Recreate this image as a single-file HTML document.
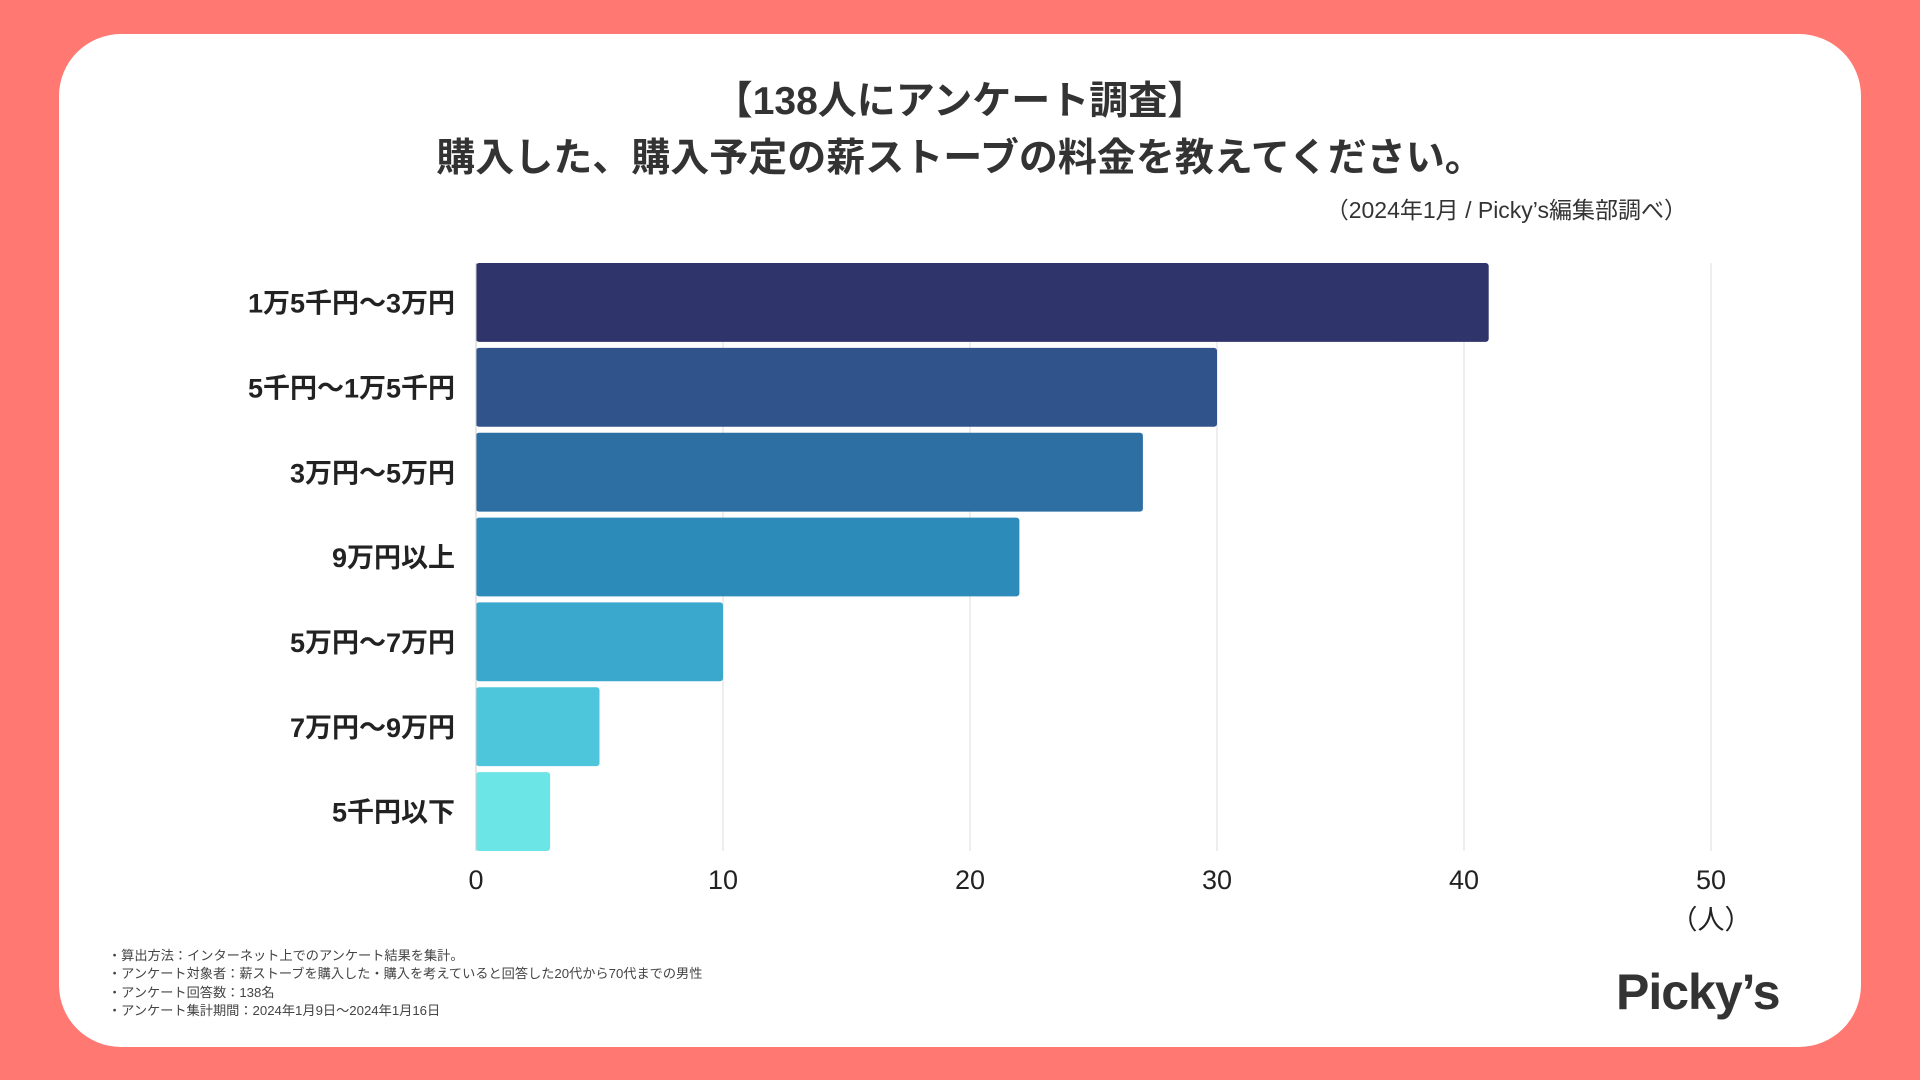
<!DOCTYPE html>
<html><head><meta charset="utf-8"><style>
html,body{margin:0;padding:0}
body{width:1920px;height:1080px;background:#ff7872;position:relative;overflow:hidden;font-family:"Liberation Sans","Noto Sans CJK JP",sans-serif;color:#222}
#card{position:absolute;left:59px;top:34px;width:1802px;height:1013px;background:#fff;border-radius:62px}
.t{position:absolute;white-space:nowrap}
</style></head><body>
<div id="card"></div>
<div class="t" style="left:0;width:1920px;text-align:center;top:73px;font-size:39px;line-height:57px;font-weight:bold;color:#333">【138人にアンケート調査】<br>購入した、購入予定の薪ストーブの料金を教えてください。</div>
<div class="t" style="right:233px;top:191px;font-size:23px;color:#333">（2024年1月 / Picky’s編集部調べ）</div>
<svg id="chart" width="1920" height="1080" style="position:absolute;left:0;top:0"></svg>
<div class="t" style="left:108px;top:947px;font-size:13.2px;line-height:18.3px;color:#444">・算出方法：インターネット上でのアンケート結果を集計。<br>・アンケート対象者：薪ストーブを購入した・購入を考えていると回答した20代から70代までの男性<br>・アンケート回答数：138名<br>・アンケート集計期間：2024年1月9日〜2024年1月16日</div>
<div class="t" style="left:1616px;top:963px;font-size:50px;font-weight:bold;color:#333;letter-spacing:-1px">Picky’s</div>
<script>
const categories=["1万5千円〜3万円","5千円〜1万5千円","3万円〜5万円","9万円以上","5万円〜7万円","7万円〜9万円","5千円以下"];
const values=[41,30,27,22,10,5,3];
const colors=["#2f346b","#31538b","#2d6ea3","#2d8bba","#3aa8cd","#4dc6db","#6ce5e6"];
const ticks=[0,10,20,30,40,50];
const NS="http://www.w3.org/2000/svg";
const svg=document.getElementById('chart');
const x0=476,x1=1711,top0=263,bottom=857,xmax=50;
const band=(bottom-top0)/categories.length;
function xs(v){return x0+(x1-x0)*v/xmax;}
function yb(i){return top0+i*band;}
function mk(t,a){const e=document.createElementNS(NS,t);for(const k in a)e.setAttribute(k,a[k]);svg.appendChild(e);return e;}
ticks.forEach(t=>{
  if(t>0){const g=mk('line',{x1:xs(t),x2:xs(t),y1:top0,y2:851,stroke:'#dddddd','stroke-width':1});
  
  }
  const l=mk('text',{x:xs(t),y:889,'text-anchor':'middle','font-size':27,fill:'#222','font-family':'Liberation Sans, Noto Sans CJK JP, sans-serif'});
  l.textContent=t;
  
  
});
categories.forEach((c,i)=>{
  const r=mk('rect',{x:x0,y:yb(i),width:xs(values[i])-x0,height:band-6,rx:3,fill:colors[i]});
  
  
  const l=mk('text',{x:455,y:yb(i)+band/2,'text-anchor':'end','dominant-baseline':'middle','font-size':27,'font-weight':'bold',fill:'#222','font-family':'Liberation Sans, Noto Sans CJK JP, sans-serif'});
  l.textContent=c;
  
  
});
const ax=mk('line',{x1:x0,x2:x0,y1:top0,y2:851,stroke:'#cccccc','stroke-width':1});


const u=mk('text',{x:xs(50),y:929,'text-anchor':'middle','font-size':27,fill:'#222','font-family':'Liberation Sans, Noto Sans CJK JP, sans-serif'});
u.textContent='（人）';


</script>
</body></html>
